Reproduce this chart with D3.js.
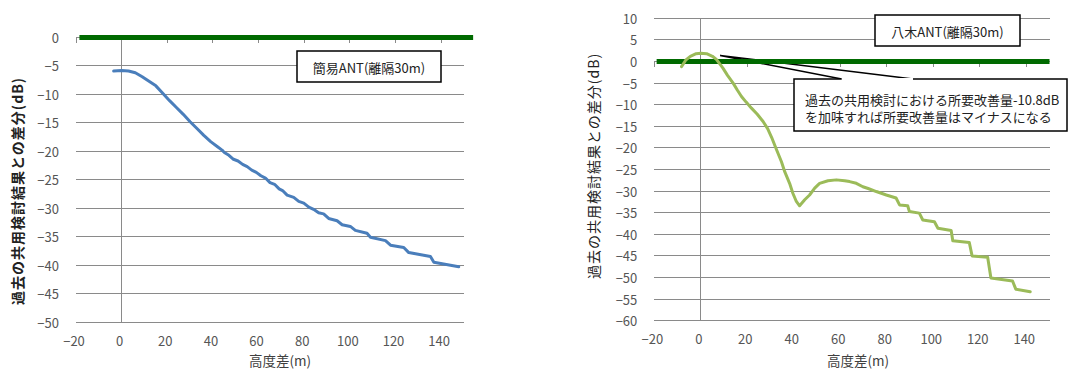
<!DOCTYPE html>
<html>
<head>
<meta charset="utf-8">
<script src="https://cdn.jsdelivr.net/npm/d3@7"></script>
<style>
  html, body { margin: 0; padding: 0; background: #fff; }
  svg { display: block; }
  text { font-family: "Noto Sans CJK JP", "Noto Sans", sans-serif; }
</style>
</head>
<body>
<svg id="chart" width="1073" height="369"></svg>
<script>
// ---------------- DATA ----------------
const xTicks = [-20, 0, 20, 40, 60, 80, 100, 120, 140];
const leftYTicks = [0, -5, -10, -15, -20, -25, -30, -35, -40, -45, -50];
const rightYTicks = [10, 5, 0, -5, -10, -15, -20, -25, -30, -35, -40, -45, -50, -55, -60];

// 簡易ANT (blue)
const simpleAntX = [-3.5, 0, 3, 6, 9, 12, 15, 18, 21, 24, 27, 30, 33, 36, 39, 42, 44, 45, 47, 49, 51, 53, 55, 57, 59, 61, 63, 65, 67, 69, 70.5, 72.5, 75.4, 77.6, 79.8, 82, 84.1, 86.3, 88.5, 90.7, 94.4, 96.6, 100.2, 102.4, 107.5, 109, 115.6, 117.8, 123.6, 125.8, 135.3, 136.8, 147.7];
const simpleAntY = [-5.9, -5.8, -5.9, -6.2, -6.9, -7.7, -8.5, -9.8, -11.1, -12.3, -13.5, -14.8, -16.0, -17.2, -18.3, -19.2, -19.8, -20.2, -20.7, -21.4, -21.7, -22.3, -22.7, -23.3, -23.7, -24.3, -24.7, -25.5, -25.8, -26.6, -26.9, -27.7, -28.1, -28.8, -29.1, -29.8, -30.2, -30.8, -31.0, -31.8, -32.2, -32.9, -33.2, -33.9, -34.4, -35.1, -35.7, -36.5, -36.9, -37.8, -38.5, -39.5, -40.3];

// 八木ANT (light green)
const yagiAntX = [-8.3, -6.5, -4.5, -2, 0, 2.5, 5, 6.7, 8.5, 9.6, 11.5, 13.9, 15.7, 17.5, 19.5, 21.8, 24.3, 26.8, 28.8, 30.5, 32.5, 34.7, 36.1, 38.2, 39.6, 41.1, 42.5, 44.7, 46.8, 49, 51.1, 54.7, 58.3, 61.9, 64, 66.9, 69.7, 72, 75.5, 79.8, 84, 85.5, 89, 89.7, 94, 95.5, 100.5, 102, 107.7, 108.4, 115.5, 116.7, 123.4, 124.8, 134.1, 135.5, 141.7];
const yagiAntY = [-1.2, 0.3, 1.2, 1.8, 1.9, 1.8, 1.2, 0.5, -0.8, -1.6, -3.2, -5.0, -6.6, -8.1, -9.4, -10.8, -12.2, -13.9, -15.6, -17.6, -20.3, -23.2, -25.5, -28.2, -30.5, -32.4, -33.4, -32.0, -30.9, -29.3, -28.2, -27.6, -27.4, -27.6, -27.8, -28.2, -29.0, -29.4, -30.1, -30.9, -31.6, -33.2, -33.4, -34.7, -35.1, -36.7, -37.1, -38.6, -39.1, -41.5, -41.9, -45.0, -45.3, -50.1, -50.8, -52.7, -53.3];

// reference (0 dB) lines
const leftRefX = [-18.5, 154];
const rightRefX = [-19, 150];
const refY = [0, 0];

const xTitle = "高度差(m)";
const yTitle = "過去の共用検討結果との差分(dB)";
const leftLabel = "簡易ANT(離隔30m)";
const rightLabel = "八木ANT(離隔30m)";
const calloutLines = ["過去の共用検討における所要改善量-10.8dB", "を加味すれば所要改善量はマイナスになる"];

// ---------------- DRAW ----------------
const svg = d3.select("#chart");

function drawChart(cfg) {
  const g = svg.append("g");
  const x = d3.scaleLinear().domain([-20, 150]).range([cfg.left, cfg.right]);
  const y = d3.scaleLinear().domain(cfg.yDomain).range([cfg.bottom, cfg.top]);

  // horizontal gridlines
  g.append("g").selectAll("line").data(cfg.yTicks).join("line")
    .attr("x1", cfg.left).attr("x2", cfg.right)
    .attr("y1", d => y(d)).attr("y2", d => y(d))
    .attr("stroke", "#8a8a8a").attr("stroke-width", 1).attr("shape-rendering", "crispEdges");

  // vertical axis line at x=0
  g.append("line")
    .attr("x1", x(0)).attr("x2", x(0)).attr("y1", cfg.top).attr("y2", cfg.bottom)
    .attr("stroke", "#8a8a8a").attr("stroke-width", 1).attr("shape-rendering", "crispEdges");

  // x-axis tick marks along y=0
  g.append("g").selectAll("line").data(xTicks).join("line")
    .attr("x1", d => x(d)).attr("x2", d => x(d))
    .attr("y1", y(0)).attr("y2", y(0) + 5)
    .attr("stroke", "#8a8a8a").attr("stroke-width", 1).attr("shape-rendering", "crispEdges");

  // y tick labels
  const fmt = d3.format("");
  g.append("g").selectAll("text").data(cfg.yTicks).join("text")
    .attr("x", cfg.left - 17).attr("y", d => y(d))
    .attr("text-anchor", "end").attr("dominant-baseline", "central")
    .attr("font-size", 13).attr("fill", "#555")
    .text(d => fmt(d));

  // x tick labels
  g.append("g").selectAll("text").data(xTicks).join("text")
    .attr("x", d => x(d) - 2).attr("y", cfg.bottom + 18)
    .attr("text-anchor", "middle").attr("dominant-baseline", "central")
    .attr("font-size", 13).attr("fill", "#555")
    .text(d => fmt(d));

  // axis titles
  g.append("text")
    .attr("x", cfg.xTitlePos[0]).attr("y", cfg.xTitlePos[1])
    .attr("text-anchor", "middle").attr("dominant-baseline", "central")
    .attr("font-size", 13.5).attr("fill", "#404040")
    .text(xTitle);
  g.append("text")
    .attr("transform", `translate(${cfg.yTitlePos[0]},${cfg.yTitlePos[1]}) rotate(-90)`)
    .attr("text-anchor", "middle").attr("dominant-baseline", "central")
    .attr("font-size", 14).attr("letter-spacing", 1).attr("font-weight", cfg.yTitleWeight).attr("fill", "#222")
    .text(yTitle);

  // callout (behind series)
  if (cfg.callout) {
    const c = cfg.callout;
    const tip = [x(c.tip[0]), y(c.tip[1])];
    g.append("path")
      .attr("d", `M${c.base[0]},${c.box[1]} L${tip[0]},${tip[1]} L${c.base[1]},${c.box[1]}`)
      .attr("fill", "#fff").attr("stroke", "#000").attr("stroke-width", 1.5).attr("stroke-linejoin", "miter");
    g.append("rect")
      .attr("x", c.box[0]).attr("y", c.box[1]).attr("width", c.box[2]).attr("height", c.box[3])
      .attr("fill", "#fff").attr("stroke", "#000").attr("stroke-width", 1.5);
    g.append("line")
      .attr("x1", c.base[0]).attr("x2", c.base[1]).attr("y1", c.box[1]).attr("y2", c.box[1])
      .attr("stroke", "#fff").attr("stroke-width", 2);
    g.selectAll(".cl").data(calloutLines).join("text")
      .attr("x", c.box[0] + 11).attr("y", (d, i) => c.box[1] + 20 + i * 17)
      .attr("dominant-baseline", "central")
      .attr("font-size", 13).attr("fill", "#222")
      .text(d => d);
  }

  // label box
  const lb = cfg.labelBox;
  g.append("rect")
    .attr("x", lb[0]).attr("y", lb[1]).attr("width", lb[2]).attr("height", lb[3])
    .attr("fill", "#fff").attr("stroke", "#000").attr("stroke-width", 1.5);
  g.append("text")
    .attr("x", lb[0] + lb[2] / 2).attr("y", lb[1] + lb[3] / 2 + 1)
    .attr("text-anchor", "middle").attr("dominant-baseline", "central")
    .attr("font-size", 13).attr("fill", "#222")
    .text(cfg.label);

  const line = d3.line().x(d => x(d[0])).y(d => y(d[1]));

  // 0 dB reference line
  g.append("path")
    .datum(d3.zip(cfg.refX, refY))
    .attr("d", line)
    .attr("fill", "none").attr("stroke", "#006a00").attr("stroke-width", 5);

  // series
  g.append("path")
    .datum(d3.zip(cfg.seriesX, cfg.seriesY))
    .attr("d", line)
    .attr("fill", "none").attr("stroke", cfg.color).attr("stroke-width", 3)
    .attr("stroke-linejoin", "round").attr("stroke-linecap", "round");
}

drawChart({
  left: 76, right: 464, top: 37.5, bottom: 322,
  yDomain: [-50, 0], yTicks: leftYTicks,
  xTitlePos: [280, 360], yTitlePos: [17, 191], yTitleWeight: "bold",
  labelBox: [297, 51, 144, 31], label: leftLabel,
  refX: leftRefX, seriesX: simpleAntX, seriesY: simpleAntY, color: "#4a7ebb"
});

drawChart({
  left: 654.3, right: 1049.5, top: 18.3, bottom: 320.7,
  yDomain: [-60, 10], yTicks: rightYTicks,
  xTitlePos: [858, 360], yTitlePos: [593, 166], yTitleWeight: "normal",
  labelBox: [875, 15, 145, 31], label: rightLabel,
  callout: { tip: [8.3, 1.4], base: [841.7, 913], box: [794, 79, 273, 52] },
  refX: rightRefX, seriesX: yagiAntX, seriesY: yagiAntY, color: "#9bbb59"
});
</script>
</body>
</html>
